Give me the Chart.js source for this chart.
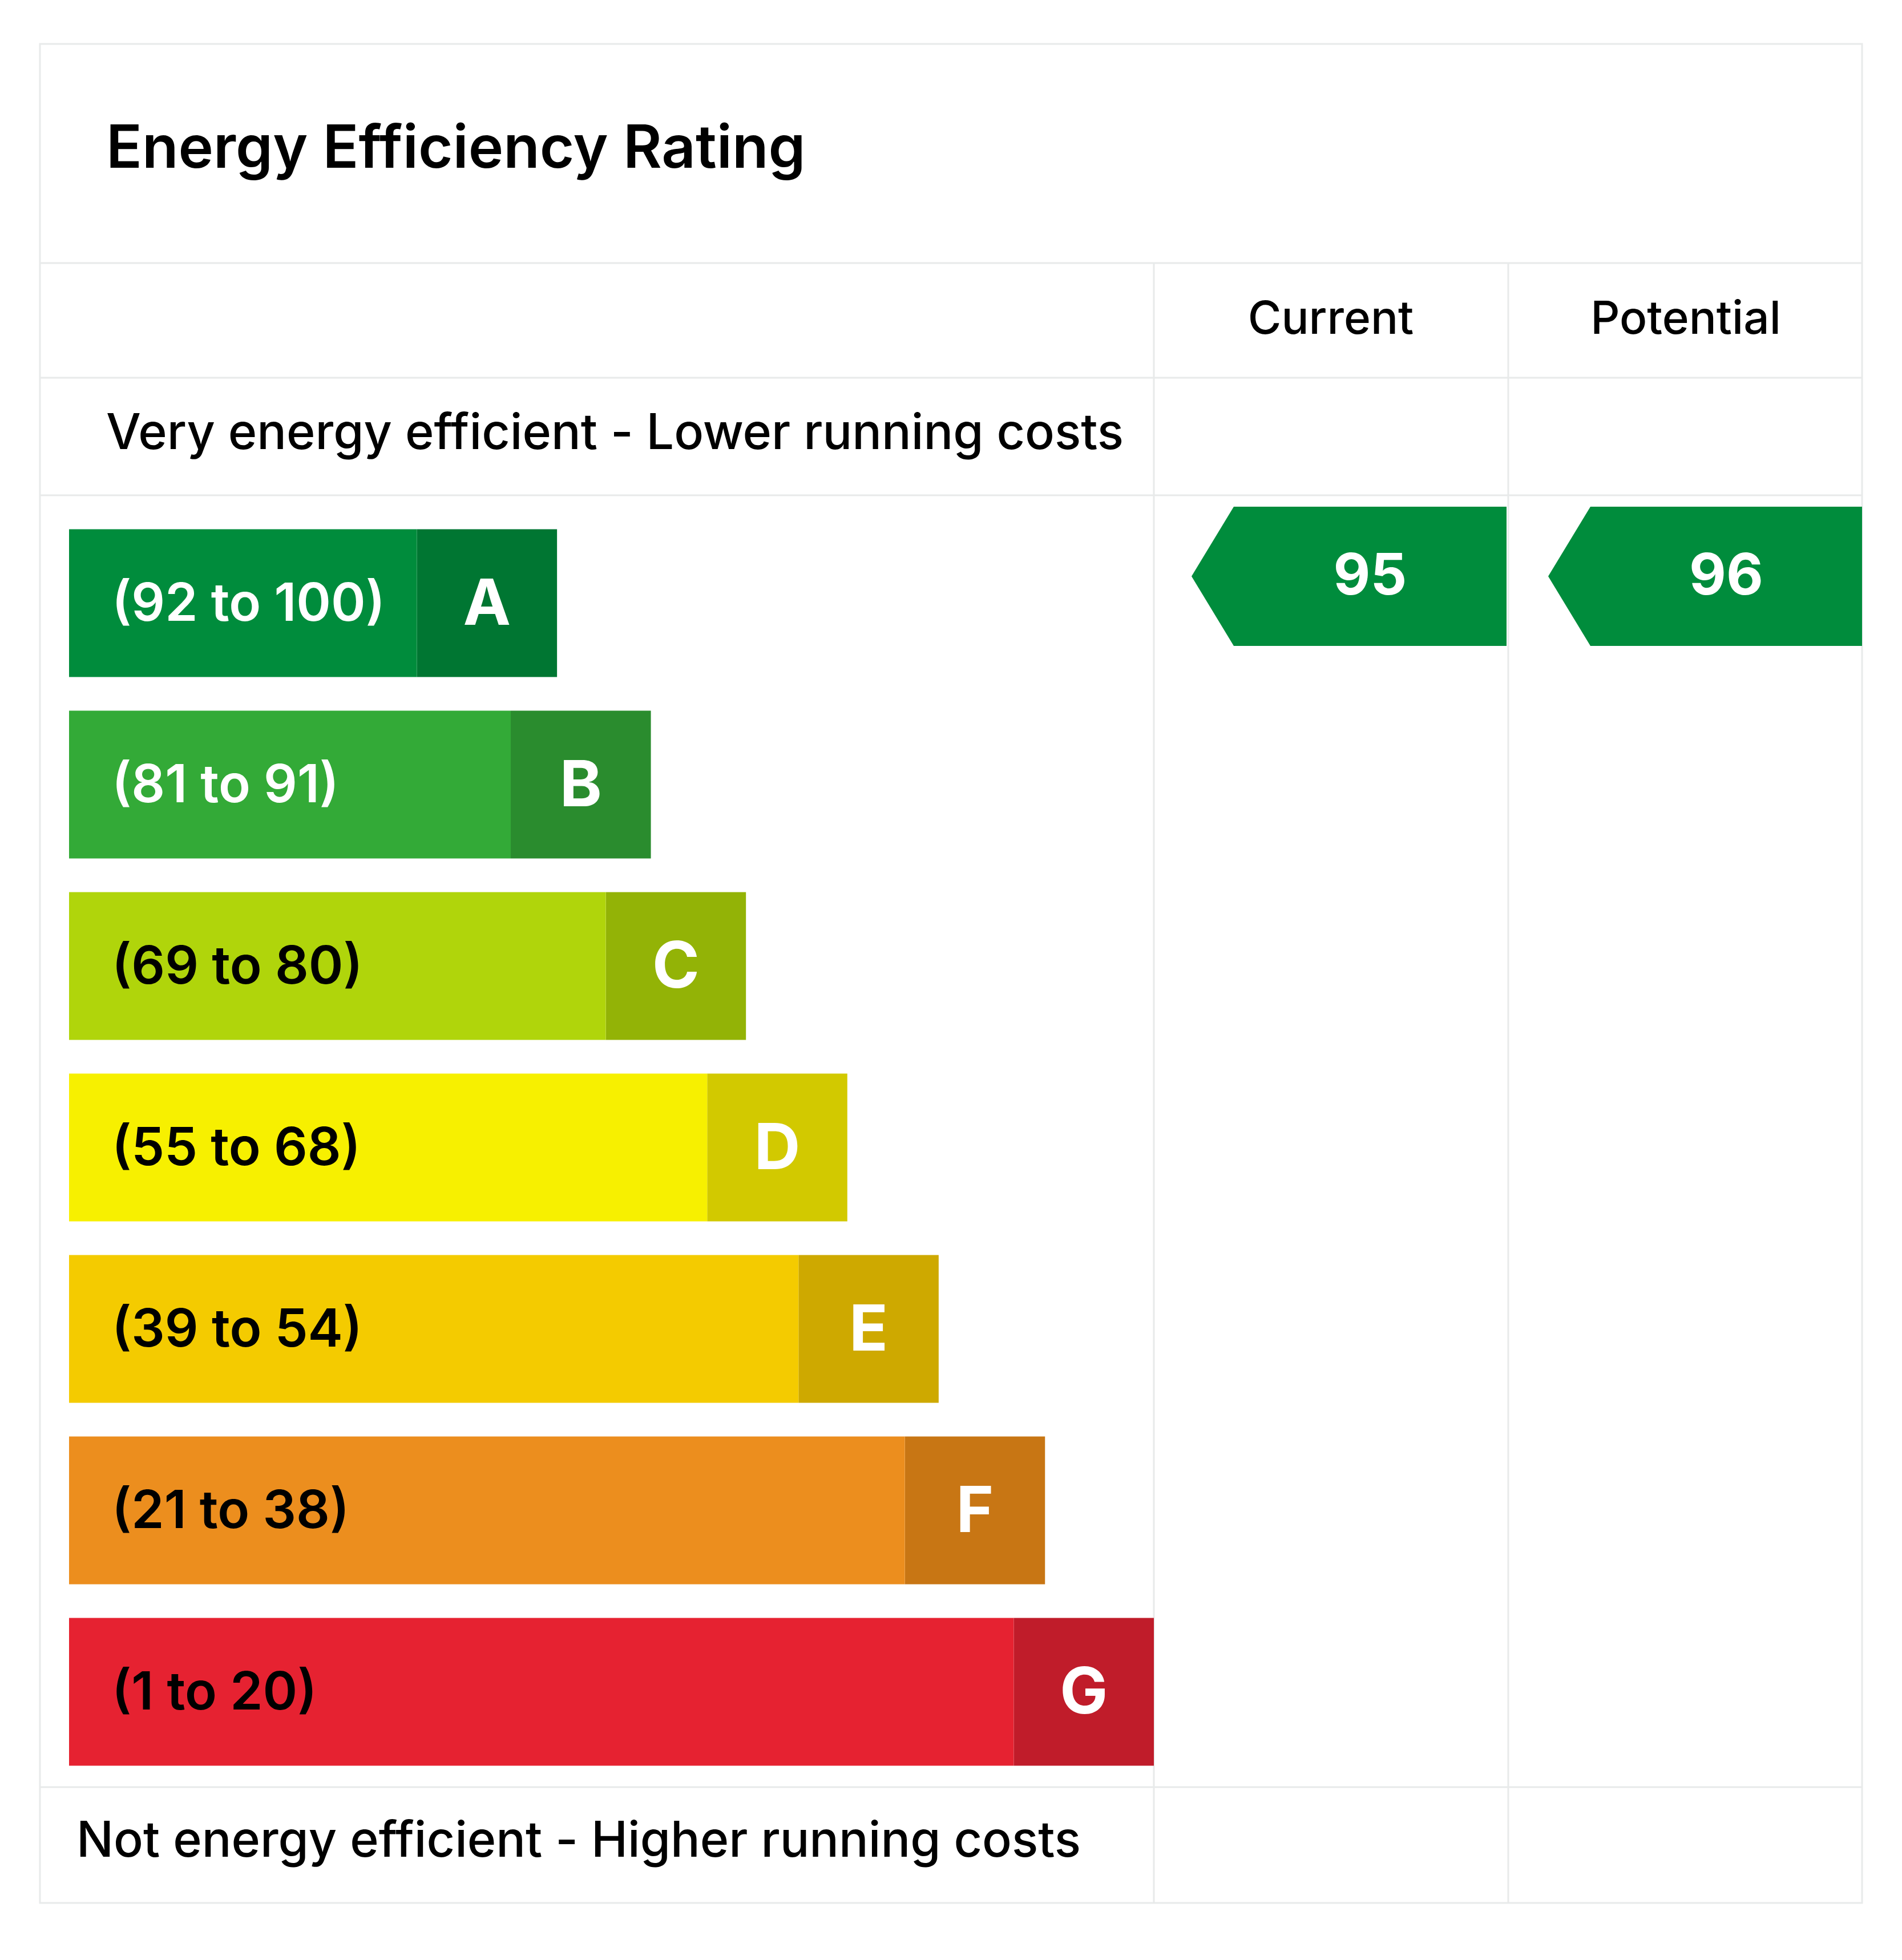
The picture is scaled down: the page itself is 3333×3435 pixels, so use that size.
<!DOCTYPE html>
<html>
<head>
<meta charset="utf-8">
<script src="https://cdn.jsdelivr.net/npm/chart.js@4.4.0/dist/chart.umd.min.js"></script>
<style>
  html, body { margin: 0; padding: 0; background: #fff; }
  canvas { display: block; }
</style>
</head>
<body>
<canvas id="epc" width="3333" height="3435" style="width:3333px;height:3435px"></canvas>
<script>
// Datos de la escala
const bandas = ['A', 'B', 'C', 'D', 'E', 'F', 'G'];
const rangos = ['(92 to 100)', '(81 to 91)', '(69 to 80)', '(55 to 68)', '(39 to 54)', '(21 to 38)', '(1 to 20)'];
const largoRango = [278, 353, 429, 510, 583, 668, 755];
const largoLetra = [112, 112, 112, 112, 112, 112, 112];
const coloresRango = ['#008c3c', '#33aa37', '#b0d50b', '#f7f000', '#f4cb00', '#ec8e1e', '#e62231'];
const coloresLetra = ['#007632', '#2a8c2e', '#93b306', '#d2c900', '#cea900', '#c87614', '#c01c2a'];
const textoRango = ['#fff', '#fff', '#000', '#000', '#000', '#000', '#000'];
const puntajeActual = 95;
const puntajePotencial = 96;

const FONT = 'Inter, "Noto Sans", sans-serif';
const LINEA = '#e8eaea';

const bandaDe = (v) => {
  const lim = [92, 81, 69, 55, 39, 21, 1];
  return lim.findIndex(l => v >= l);
};

const tablaPlugin = {
  id: 'tabla',
  beforeDraw(chart) {
    const c = chart.ctx;
    c.save();
    c.fillStyle = '#fff';
    c.fillRect(0, 0, chart.width, chart.height);
    c.strokeStyle = LINEA;
    c.lineWidth = 3;
    c.strokeRect(70, 77, 3193, 3258);
    [461, 662, 868, 3132].forEach(y => {
      c.beginPath(); c.moveTo(70, y); c.lineTo(3263, y); c.stroke();
    });
    [2022, 2643].forEach(x => {
      c.beginPath(); c.moveTo(x, 461); c.lineTo(x, 3335); c.stroke();
    });
    c.fillStyle = '#000';
    c.textBaseline = 'middle';
    c.font = `600 104px ${FONT}`;
    c.fillText('Energy Efficiency Rating', 186, 263);
    c.font = `500 80px ${FONT}`;
    c.textAlign = 'center';
    c.fillText('Current', 2332, 561);
    c.fillText('Potential', 2954, 561);
    c.textAlign = 'left';
    c.font = `500 86px ${FONT}`;
    c.fillText('Very energy efficient - Lower running costs', 186, 761);
    c.fillText('Not energy efficient - Higher running costs', 134, 3228);
    c.restore();
  },
  afterDatasetsDraw(chart) {
    const c = chart.ctx;
    const y = chart.scales.y;
    const x = chart.scales.x;
    c.save();
    c.textBaseline = 'middle';
    bandas.forEach((b, i) => {
      const cy = y.getPixelForValue(i);
      c.fillStyle = textoRango[i];
      c.font = `600 92px ${FONT}`;
      c.textAlign = 'left';
      c.fillText(rangos[i], 196, cy + 3);
      c.fillStyle = '#fff';
      c.font = `bold 112px ${FONT}`;
      c.textAlign = 'center';
      const xm = x.getPixelForValue(largoRango[i] + largoLetra[i] / 2);
      c.fillText(b, xm, cy + 4);
    });
    // flechas
    const flecha = (valor, x0, x1) => {
      const i = bandaDe(valor);
      const cy = y.getPixelForValue(i) - 47;
      const h = 244;
      c.fillStyle = coloresRango[i];
      c.beginPath();
      c.moveTo(x0, cy);
      c.lineTo(x0 + 74, cy - h / 2);
      c.lineTo(x1, cy - h / 2);
      c.lineTo(x1, cy + h / 2);
      c.lineTo(x0 + 74, cy + h / 2);
      c.closePath();
      c.fill();
      c.fillStyle = '#fff';
      c.font = `bold 100px ${FONT}`;
      c.textAlign = 'center';
      c.fillText(String(valor), (x0 + 74 + x1) / 2, cy + 2);
    };
    flecha(puntajeActual, 2088, 2640);
    flecha(puntajePotencial, 2713, 3263);
    c.restore();
  }
};

new Chart(document.getElementById('epc'), {
  type: 'bar',
  data: {
    labels: bandas,
    datasets: [
      { data: largoRango, backgroundColor: coloresRango, borderWidth: 0 },
      { data: largoLetra, backgroundColor: coloresLetra, borderWidth: 0 }
    ]
  },
  options: {
    indexAxis: 'y',
    responsive: false,
    animation: false,
    devicePixelRatio: 1,
    layout: { padding: { left: 121, right: 3333 - 2022, top: 898, bottom: 3435 - 3124 } },
    datasets: { bar: { categoryPercentage: 1, barPercentage: 0.814 } },
    scales: {
      x: { stacked: true, min: 0, max: 867, display: false },
      y: { stacked: true, display: false }
    },
    plugins: { legend: { display: false }, tooltip: { enabled: false } }
  },
  plugins: [tablaPlugin]
});
</script>
</body>
</html>
